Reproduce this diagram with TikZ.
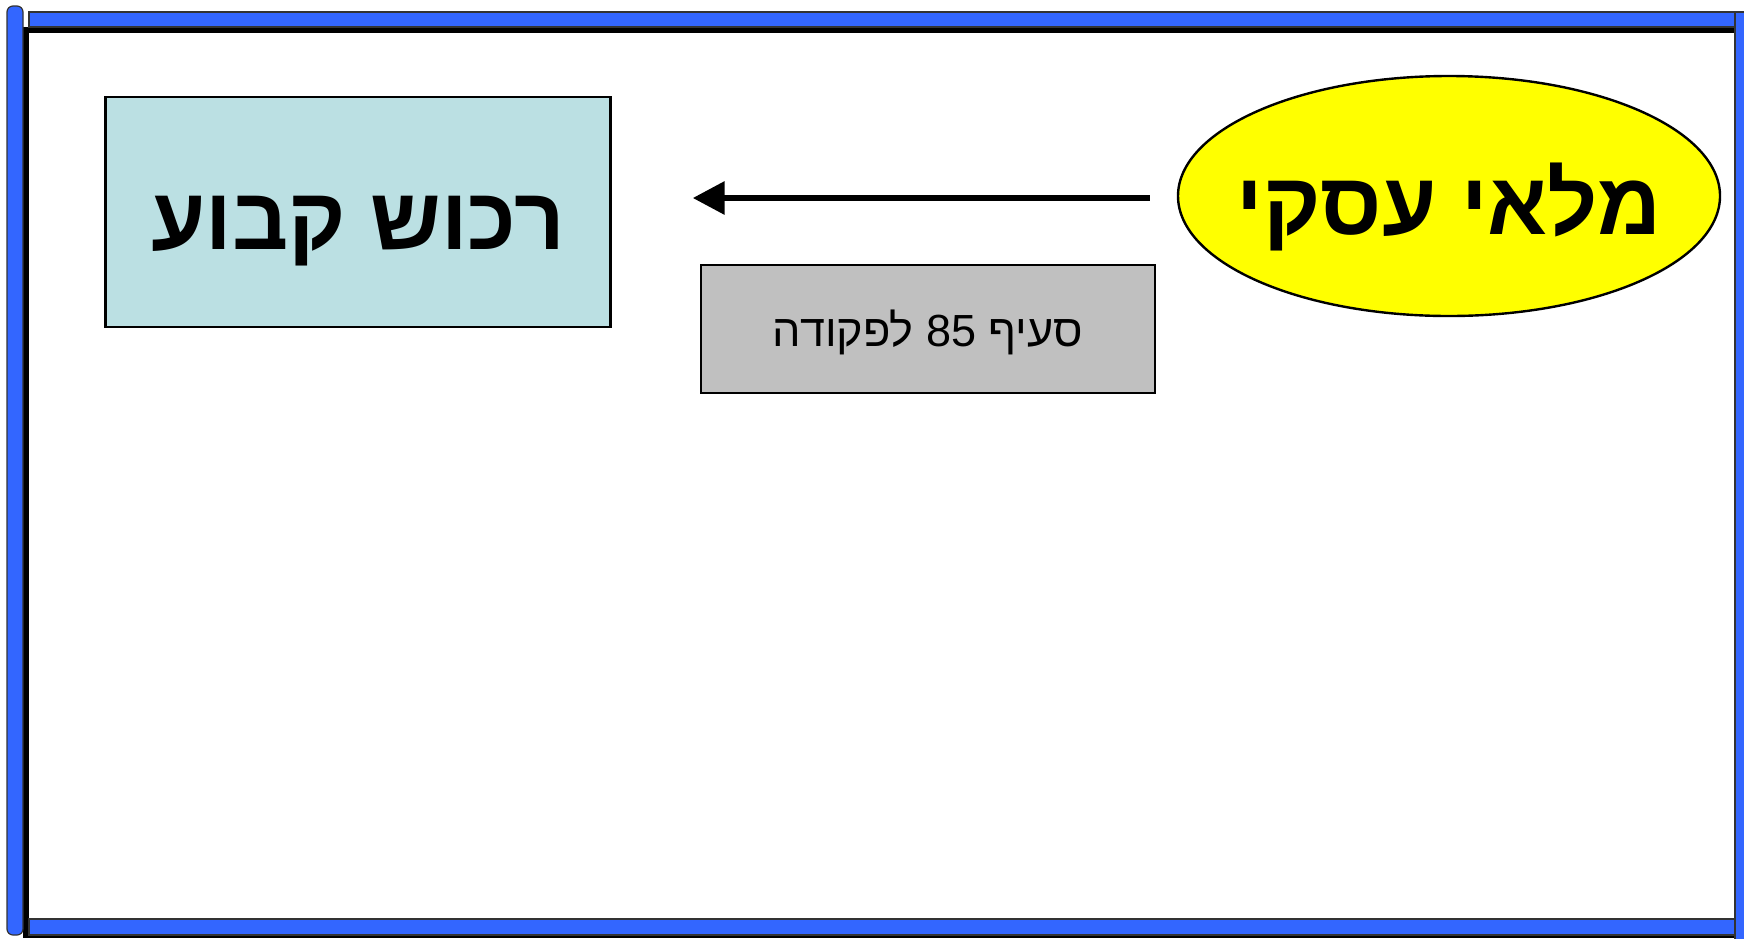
\documentclass[tikz,border=0pt]{standalone}
\usepackage{fontspec}
\usepackage{tikz}
\usetikzlibrary{arrows.meta,shapes.geometric}
\TeXXeTstate=1
\newfontfamily\hebfont[Script=Hebrew]{Liberation Sans}
\definecolor{framebl}{HTML}{3366FF}
\definecolor{tealfill}{HTML}{BBE0E3}
\definecolor{grayfill}{HTML}{C0C0C0}
\definecolor{ovalfill}{HTML}{FFFF00}
\tikzset{
  barbox/.style={fill=framebl, draw=black!80, line width=0.6pt},
  shadowbox/.style={fill=black},
  bigtext/.style={font=\hebfont\bfseries\fontsize{44}{50}\selectfont},
  bigbox/.style={draw, fill=tealfill, line width=1.2pt, minimum width=252.5pt, minimum height=115pt, inner sep=0pt},
  notebox/.style={draw, fill=grayfill, line width=1.2pt, minimum width=227pt, minimum height=64pt, inner sep=0pt},
  oval/.style={ellipse, draw, fill=ovalfill, line width=1.2pt, minimum width=271pt, minimum height=120pt, inner sep=0pt},
  arr/.style={-{Triangle[length=16pt,width=16pt]}, line width=3.2pt}
}
\begin{document}
\begin{tikzpicture}[x=0.5pt, y=-0.5pt]
  \useasboundingbox (0,0) rectangle (1744,938);
  % slide frame
  \fill[white] (0,0) rectangle (1744,938);
  \fill[shadowbox] (23,27) rectangle (1735,33);
  \fill[shadowbox] (23,27) rectangle (29,938);
  \fill[shadowbox] (23,935) rectangle (1744,938);
  \draw[barbox] (29,12) rectangle (1735,27);
  \draw[barbox] (29,919) rectangle (1735,935);
  \draw[barbox] (1735,12) rectangle (1750,945);
  \draw[barbox, rounded corners=3pt] (7,6) rectangle (23,935);
  % nodes
  \node[bigbox, label={[bigtext, yshift=-9.5pt]center:\beginR רכוש קבוע\endR}] (rechush) at (358,212) {};
  \node[oval, label={[bigtext, yshift=-5.5pt]center:\beginR מלאי עסקי\endR}] (mlay) at (1449,196) {};
  \node[notebox, label={[font=\hebfont\fontsize{22.5}{27}\selectfont, yshift=-1.5pt]center:\beginR סעיף \beginL 85\endL{} לפקודה\endR}] (seif) at (928,329) {};
  \draw[arr] ([xshift=-13.5pt, yshift=-1pt]mlay.west) -- ([xshift=40.5pt, yshift=-1pt]mlay.west -| rechush.east);
\end{tikzpicture}
\end{document}
